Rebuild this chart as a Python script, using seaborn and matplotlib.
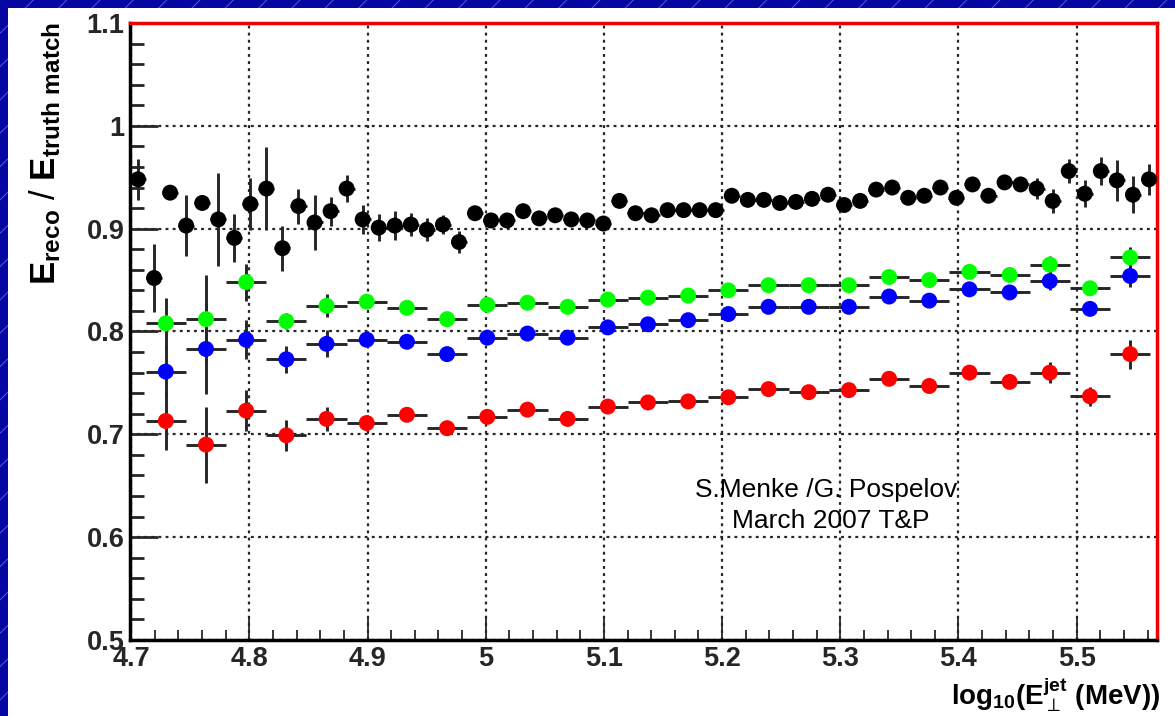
import numpy as np
import pandas as pd
import matplotlib
matplotlib.use("Agg")
import matplotlib.pyplot as plt
import seaborn as sns
from matplotlib.ticker import MultipleLocator, FuncFormatter
from matplotlib.patches import Rectangle

# ---------------------------------------------------------------- data
# fine binning (all jets) : 64 bins in log10(E_T / MeV)
fine_range = (4.699, 5.568)
fine_nbins = 64
ratio_all = [
    0.948, 0.852, 0.935, 0.903, 0.925, 0.909, 0.891, 0.924, 0.939, 0.881,
    0.922, 0.906, 0.917, 0.939, 0.909, 0.901, 0.903, 0.904, 0.899, 0.904,
    0.887, 0.915, 0.908, 0.908, 0.917, 0.910, 0.913, 0.909, 0.908, 0.905,
    0.927, 0.915, 0.913, 0.918, 0.918, 0.918, 0.918, 0.932, 0.928, 0.928,
    0.925, 0.926, 0.929, 0.933, 0.923, 0.927, 0.938, 0.940, 0.930, 0.932,
    0.940, 0.930, 0.943, 0.932, 0.945, 0.943, 0.939, 0.927, 0.956, 0.934,
    0.956, 0.947, 0.933, 0.948,
]
err_all = [
    0.020, 0.033, 0.004, 0.030, 0.005, 0.045, 0.023, 0.025, 0.040, 0.022,
    0.017, 0.027, 0.014, 0.013, 0.014, 0.013, 0.014, 0.011, 0.011, 0.009,
    0.011, 0.006, 0.004, 0.004, 0.004, 0.004, 0.004, 0.004, 0.004, 0.004,
    0.004, 0.004, 0.004, 0.004, 0.004, 0.004, 0.004, 0.004, 0.004, 0.004,
    0.004, 0.004, 0.004, 0.004, 0.004, 0.004, 0.004, 0.004, 0.004, 0.004,
    0.004, 0.004, 0.004, 0.004, 0.005, 0.005, 0.010, 0.012, 0.012, 0.013,
    0.014, 0.020, 0.018, 0.015,
]

# coarse binning (calibration variants) : 25 bins
coarse_range = (4.7123, 5.5623)
coarse_nbins = 25
ratio_green = [
    0.808, 0.812, 0.848, 0.810, 0.825, 0.829, 0.823, 0.812, 0.826, 0.828,
    0.824, 0.831, 0.833, 0.835, 0.840, 0.845, 0.845, 0.845, 0.853, 0.850,
    0.858, 0.855, 0.865, 0.842, 0.872,
]
err_green = [
    0.025, 0.043, 0.018, 0.008, 0.011, 0.006, 0.005, 0.005, 0.004, 0.004,
    0.004, 0.004, 0.004, 0.004, 0.004, 0.004, 0.004, 0.004, 0.004, 0.004,
    0.004, 0.004, 0.008, 0.005, 0.010,
]
ratio_blue = [
    0.761, 0.783, 0.792, 0.773, 0.788, 0.792, 0.790, 0.778, 0.794, 0.798,
    0.794, 0.804, 0.807, 0.811, 0.817, 0.824, 0.824, 0.824, 0.834, 0.830,
    0.841, 0.838, 0.849, 0.822, 0.854,
]
err_blue = [
    0.025, 0.044, 0.019, 0.013, 0.013, 0.006, 0.005, 0.005, 0.004, 0.004,
    0.004, 0.004, 0.004, 0.004, 0.004, 0.004, 0.004, 0.004, 0.004, 0.004,
    0.004, 0.004, 0.009, 0.005, 0.011,
]
ratio_red = [
    0.713, 0.690, 0.723, 0.699, 0.715, 0.711, 0.719, 0.706, 0.717, 0.724,
    0.715, 0.727, 0.731, 0.732, 0.736, 0.744, 0.741, 0.743, 0.754, 0.747,
    0.760, 0.751, 0.760, 0.737, 0.778,
]
err_red = [
    0.028, 0.037, 0.020, 0.015, 0.012, 0.008, 0.006, 0.006, 0.004, 0.004,
    0.004, 0.004, 0.004, 0.004, 0.004, 0.004, 0.004, 0.004, 0.004, 0.004,
    0.004, 0.004, 0.010, 0.009, 0.014,
]

y_ticks = [0.5, 0.6, 0.7, 0.8, 0.9, 1.0, 1.1]
x_ticks = [4.7, 4.8, 4.9, 5.0, 5.1, 5.2, 5.3, 5.4, 5.5]

# ---------------------------------------------------------------- bins
fine_edges = np.linspace(*fine_range, fine_nbins + 1)
fine_x = 0.5 * (fine_edges[:-1] + fine_edges[1:])
fine_hw = 0.5 * np.diff(fine_edges)
coarse_edges = np.linspace(*coarse_range, coarse_nbins + 1)
coarse_x = 0.5 * (coarse_edges[:-1] + coarse_edges[1:])
coarse_hw = 0.5 * np.diff(coarse_edges)

series = {
    "all": (fine_x, fine_hw, ratio_all, err_all, "#000000"),
    "green": (coarse_x, coarse_hw, ratio_green, err_green, "#00ff00"),
    "blue": (coarse_x, coarse_hw, ratio_blue, err_blue, "#0000ff"),
    "red": (coarse_x, coarse_hw, ratio_red, err_red, "#ff0000"),
}
df = pd.concat(
    [pd.DataFrame({"x": s[0], "y": s[2], "series": k}) for k, s in series.items()],
    ignore_index=True,
)

# ---------------------------------------------------------------- style
sns.set_theme(style="white")
plt.rcParams["font.family"] = ["Liberation Sans", "DejaVu Sans"]
plt.rcParams["mathtext.fontset"] = "custom"
plt.rcParams["mathtext.rm"] = "Liberation Sans:bold"
plt.rcParams["mathtext.bf"] = "Liberation Sans:bold"
plt.rcParams["mathtext.it"] = "Liberation Sans:bold"
plt.rcParams["mathtext.sf"] = "DejaVu Sans:bold"
plt.rcParams["hatch.linewidth"] = 0.7

W, H = 1175, 716
fig = plt.figure(figsize=(W / 100, H / 100), dpi=100)
fig.patch.set_facecolor("#0606a2")
fig.add_artist(Rectangle((0, 0), 1, 1, transform=fig.transFigure,
                         facecolor="none", edgecolor="#5b5bd6", hatch="/",
                         lw=0, zorder=-10))
fig.add_artist(Rectangle((8 / W, 0), 1, 1 - 8 / H, transform=fig.transFigure,
                         facecolor="white", edgecolor="none", zorder=-5))

left, right, top, bottom = 130, 1157, 23, 640
ax = fig.add_axes([left / W, 1 - bottom / H, (right - left) / W, (bottom - top) / H])
ax.set_facecolor("white")

# error bars first, markers on top
for k, (x, hw, y, e, c) in series.items():
    ax.errorbar(x, y, yerr=e, xerr=hw, fmt="none", ecolor="#262626",
                elinewidth=2.1, capsize=0, zorder=2)

sns.scatterplot(data=df, x="x", y="y", hue="series",
                palette={k: s[4] for k, s in series.items()},
                s=132, linewidth=0, legend=False, ax=ax, zorder=3)

ax.set_xlim(*fine_range)
ax.set_ylim(0.5, 1.1)
ax.set_xticks(x_ticks)
ax.set_yticks(y_ticks)
ax.xaxis.set_minor_locator(MultipleLocator(0.02))
ax.yaxis.set_minor_locator(MultipleLocator(0.02))
fmt = FuncFormatter(lambda v, p: f"{v:g}")
ax.xaxis.set_major_formatter(fmt)
ax.yaxis.set_major_formatter(fmt)

ax.grid(True, which="major", color="#262626", linestyle=(0, (1.3, 1.9)), lw=1.6, zorder=1)
ax.set_axisbelow(True)

ax.tick_params(axis="y", which="major", direction="in", length=20, width=2.0,
               pad=4, labelsize=19.5, left=True, right=False)
ax.tick_params(axis="y", which="minor", direction="in", length=10, width=2.0,
               left=True, right=False)
ax.tick_params(axis="x", which="major", direction="in", length=16, width=1.3,
               pad=4, labelsize=19.5, bottom=True, top=False)
ax.tick_params(axis="x", which="minor", direction="in", length=7.5, width=1.3,
               bottom=True, top=False)
for lab in ax.get_xticklabels() + ax.get_yticklabels():
    lab.set_fontweight("bold")

for side in ("left", "bottom"):
    ax.spines[side].set_color("black")
    ax.spines[side].set_linewidth(2.5)
for side in ("top", "right"):
    ax.spines[side].set_color("#ee0000")
    ax.spines[side].set_linewidth(2.5)
ax.set_xlabel("")
ax.set_ylabel("")

fig.text(45 / W, 1 - 22 / H, r"$\mathbf{E_{reco}}$ / $\mathbf{E_{truth\ match}}$",
         rotation=90, ha="center", va="top", fontsize=25, color="black",
         fontweight="normal")
fig.text(1160 / W, 1 - 704 / H,
         r"$\mathbf{log_{10}(E}^{\mathbf{jet}}_{\mathsf{\perp}}\mathbf{\ (MeV))}$",
         ha="right", va="baseline", fontsize=20, color="black")

fig.text(826 / W, 1 - 490 / H, "S.Menke /G. Pospelov", ha="center", va="center",
         fontsize=19, color="black")
fig.text(831 / W, 1 - 521 / H, "March 2007 T&P", ha="center", va="center",
         fontsize=19, color="black")

fig.savefig("out.png", dpi=100, facecolor=fig.get_facecolor())
